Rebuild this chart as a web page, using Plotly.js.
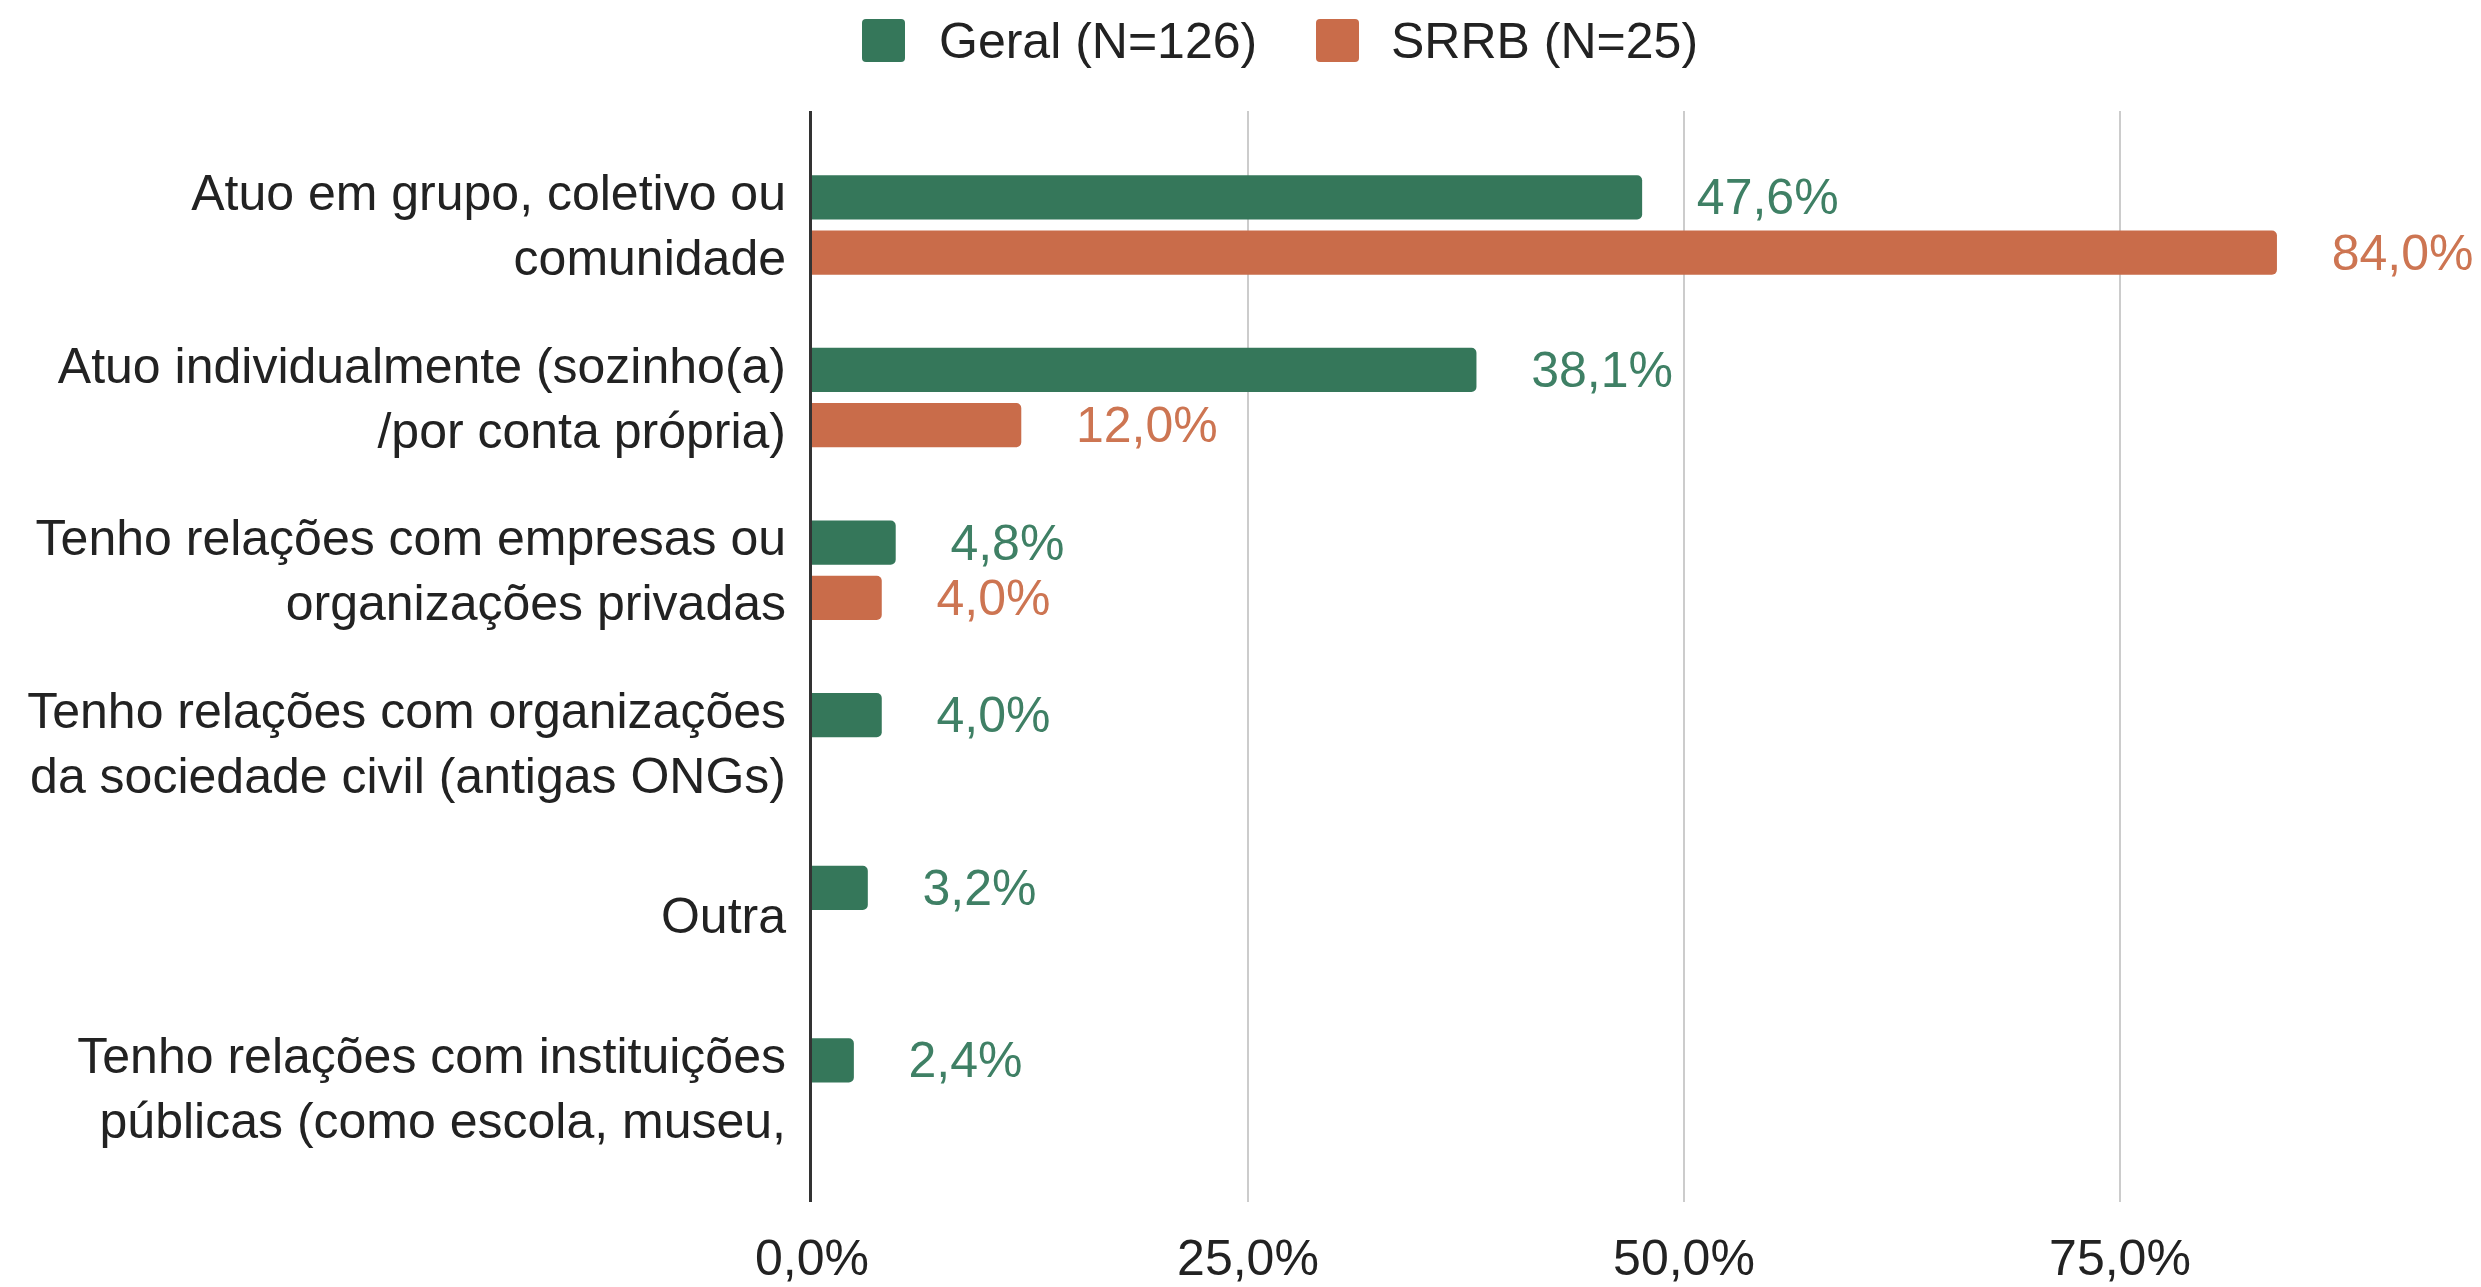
<!DOCTYPE html>
<html>
<head>
<meta charset="utf-8">
<script src="https://cdn.plot.ly/plotly-3.0.1.min.js"></script>
<style>html,body{margin:0;padding:0;background:#fff;}</style>
</head>
<body>
<div id="chart" style="width:2481px;height:1287px;"></div>
<script>
const categories = [
  "Atuo em grupo, coletivo ou<br>comunidade",
  "Atuo individualmente (sozinho(a)<br>/por conta própria)",
  "Tenho relações com empresas ou<br>organizações privadas",
  "Tenho relações com organizações<br>da sociedade civil (antigas ONGs)",
  "Outra",
  "Tenho relações com instituições<br>públicas (como escola, museu,"
];
const geralValues = [47.6, 38.1, 4.8, 4.0, 3.2, 2.4];
const srrbValues = [84.0, 12.0, 4.0, null, null, null];
const seriesNames = ["Geral (N=126)", "SRRB (N=25)"];
const tickValues = [0, 25, 50, 75];
const tickLabels = ["0,0%", "25,0%", "50,0%", "75,0%"];

const green = "#35775a";
const orange = "#c96c4a";
const FONT = "Arial, 'Liberation Sans', sans-serif";
const FS = 50;
const pad = "\u00a0\u00a0\u00a0\u2009";

function fmt(v) { return v == null ? "" : pad + v.toFixed(1).replace(".", ",") + "%"; }

const traces = [
  {
    type: "bar", orientation: "h", name: seriesNames[0],
    y: categories, x: geralValues,
    marker: {color: green},
    text: geralValues.map(fmt),
    textposition: "outside", cliponaxis: false, constraintext: "none",
    textfont: {color: "#3f8065", size: FS, family: FONT},
    hoverinfo: "x+y", showlegend: false
  },
  {
    type: "bar", orientation: "h", name: seriesNames[1],
    y: categories, x: srrbValues,
    marker: {color: orange},
    text: srrbValues.map(fmt),
    textposition: "outside", cliponaxis: false, constraintext: "none",
    textfont: {color: "#cd7552", size: FS, family: FONT},
    hoverinfo: "x+y", showlegend: false
  }
];

// Legend drawn as shapes + annotations (paper coords: plot spans x 812..2481, y 111..1202)
const L = 812, W = 1669, T = 111, H = 1091;
function px2x(p) { return (p - L) / W; }
function py2y(p) { return (T + H - p) / H; }
function roundedSquare(x0, y0, s, r) {
  const x1 = x0 + s, y1 = y0 + s;
  const X = px2x, Y = py2y;
  return "M" + X(x0 + r) + "," + Y(y0) +
    " L" + X(x1 - r) + "," + Y(y0) +
    " Q" + X(x1) + "," + Y(y0) + " " + X(x1) + "," + Y(y0 + r) +
    " L" + X(x1) + "," + Y(y1 - r) +
    " Q" + X(x1) + "," + Y(y1) + " " + X(x1 - r) + "," + Y(y1) +
    " L" + X(x0 + r) + "," + Y(y1) +
    " Q" + X(x0) + "," + Y(y1) + " " + X(x0) + "," + Y(y1 - r) +
    " L" + X(x0) + "," + Y(y0 + r) +
    " Q" + X(x0) + "," + Y(y0) + " " + X(x0 + r) + "," + Y(y0) + " Z";
}
const legendColors = [green, orange];
const legendSquareX = [862, 1316];
const legendTextX = [937, 1389];
const shapes = legendColors.map((c, i) => ({
  type: "path", xref: "paper", yref: "paper",
  path: roundedSquare(legendSquareX[i], 19, 43, 4),
  fillcolor: c, line: {width: 0}
}));
const annotations = seriesNames.map((n, i) => ({
  text: n, xref: "paper", yref: "paper",
  x: px2x(legendTextX[i]), y: py2y(41), xanchor: "left", yanchor: "middle",
  showarrow: false, font: {size: FS, color: "#222222", family: FONT}
}));

const layout = {
  width: 2481, height: 1287,
  margin: {l: 812, r: 0, t: 111, b: 85, pad: 0},
  paper_bgcolor: "#ffffff", plot_bgcolor: "#ffffff",
  font: {family: FONT, size: FS, color: "#222222"},
  separators: ",.",
  barmode: "group", bargap: 0.36, bargroupgap: 0.2, barcornerradius: 5,
  xaxis: {
    range: [0, 95.7], tickvals: tickValues, ticktext: tickLabels,
    showgrid: true, gridcolor: "#cccccc", gridwidth: 2,
    zeroline: false, showline: false, ticks: "",
    ticklabelstandoff: 22,
    tickfont: {size: FS, color: "#222222"}
  },
  yaxis: {
    type: "category", range: [5.66, -0.66],
    showline: true, linecolor: "#333333", linewidth: 3,
    showgrid: false, zeroline: false, ticks: "",
    ticklabelstandoff: 13,
    tickfont: {size: FS, color: "#222222"}
  },
  showlegend: false,
  shapes: shapes,
  annotations: annotations
};

Plotly.newPlot("chart", traces, layout, {displayModeBar: false, staticPlot: true});
</script>
</body>
</html>
